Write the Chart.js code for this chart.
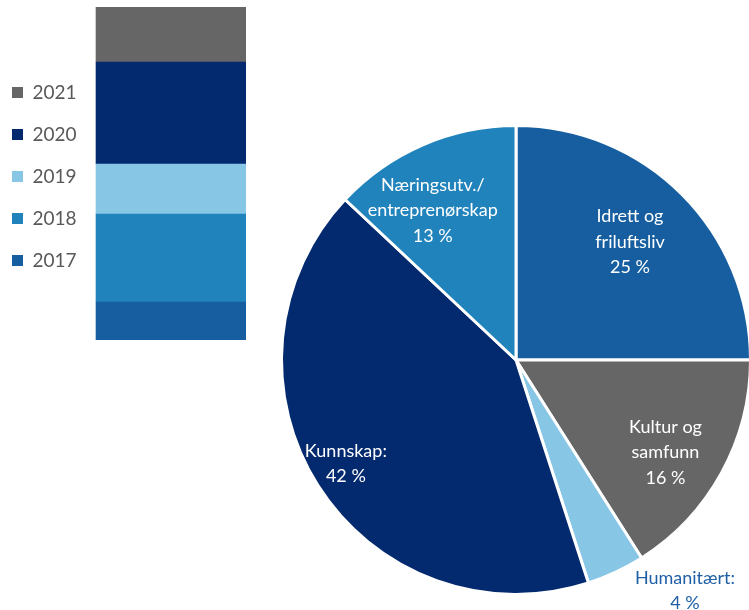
<!DOCTYPE html>
<html>
<head>
<meta charset="utf-8">
<script src="https://cdn.jsdelivr.net/npm/chart.js@4"></script>
<style>
  body { margin: 0; width: 749px; height: 610px; background: #fff; position: relative; overflow: hidden; }
  #barWrap { position: absolute; left: -11px; top: 0; width: 257px; height: 350px; }
  #pieWrap { position: absolute; left: 0; top: 0; width: 760px; height: 620px; }
</style>
</head>
<body>
<div id="barWrap"><canvas id="yearBar"></canvas></div>
<div id="pieWrap"><canvas id="sharePie"></canvas></div>
<script>
// år (stablet søyle)
const years = ["2017", "2018", "2019", "2020", "2021"];
const yearValues = [38, 88, 50, 102, 55];
const yearColors = ["#165ea0", "#2083bb", "#87c6e5", "#032a6f", "#666666"];

// formål (kake)
const purposes = [
  ["Idrett og", "friluftsliv"],
  ["Kultur og", "samfunn"],
  ["Humanitært:"],
  ["Kunnskap:"],
  ["Næringsutv./", "entreprenørskap"]
];
const purposeShares = [25, 16, 4, 42, 13];
const purposeColors = ["#165ea0", "#666666", "#87c6e5", "#032a6f", "#2083bb"];

// etikettplassering: andel av radius og vinkeljustering (grader)
const labelDist = [0.70, 0.75, 1.22, 0.85, 0.73];
const labelTurn = [-1, 3, -11, 1, -5.7];
const labelColor = ["#fff", "#fff", "#1f5fa6", "#fff", "#fff"];

Chart.defaults.font.family = "Lato, 'Liberation Sans', sans-serif";
Chart.defaults.animation = false;

document.addEventListener("DOMContentLoaded", () => {
  // litt bredere legende, så søylen havner der den skal
  const widerLegend = {
    id: "widerLegend",
    beforeInit(chart) {
      const fit = chart.legend.fit;
      chart.legend.fit = function () {
        fit.bind(chart.legend)();
        this.width += 9;
      };
    },
  };

  const barCanvas = document.getElementById("yearBar");
  if (barCanvas) {
    new Chart(barCanvas.getContext("2d"), {
      type: "bar",
      data: {
        labels: [""],
        datasets: years.map((y, i) => ({
          label: y,
          data: [yearValues[i]],
          backgroundColor: yearColors[i],
          barPercentage: 1,
          categoryPercentage: 1,
        })),
      },
      options: {
        responsive: true,
        maintainAspectRatio: false,
        events: [],
        layout: { padding: { top: 7, bottom: 10, right: 0 } },
        scales: {
          x: { stacked: true, display: false },
          y: { stacked: true, display: false, min: 0, max: yearValues.reduce((a, b) => a + b, 0) },
        },
        plugins: {
          tooltip: { enabled: false },
          legend: {
            position: "left",
            reverse: true,
            title: { display: true, text: "", font: { size: 6, lineHeight: 1 }, padding: 0 },
            labels: {
              boxWidth: 11,
              boxHeight: 11,
              padding: 23,
              color: "#595959",
              font: { size: 19 },
            },
          },
        },
      },
      plugins: [widerLegend],
    });
  }

  const pieLabels = {
    id: "pieLabels",
    afterDatasetsDraw(chart) {
      const ctx = chart.ctx;
      const arcs = chart.getDatasetMeta(0).data;
      ctx.save();
      ctx.font = "18px Lato, 'Liberation Sans', sans-serif";
      ctx.textAlign = "center";
      ctx.textBaseline = "middle";
      arcs.forEach((arc, i) => {
        const mid = (arc.startAngle + arc.endAngle) / 2 + labelTurn[i] * Math.PI / 180;
        const r = arc.outerRadius * labelDist[i];
        const x = arc.x + Math.cos(mid) * r;
        const y = arc.y + Math.sin(mid) * r;
        const lines = purposes[i].concat([purposeShares[i] + " %"]);
        const lh = 25.5;
        ctx.fillStyle = labelColor[i];
        lines.forEach((t, k) => {
          ctx.fillText(t, x, y + (k - (lines.length - 1) / 2) * lh);
        });
      });
      ctx.restore();
    },
  };

  const pieCanvas = document.getElementById("sharePie");
  if (pieCanvas) {
    new Chart(pieCanvas.getContext("2d"), {
      type: "pie",
      data: {
        labels: purposes.map((p) => p.join(" ")),
        datasets: [
          {
            data: purposeShares,
            backgroundColor: purposeColors,
            borderColor: "#ffffff",
            borderWidth: 3,
          },
        ],
      },
      options: {
        responsive: true,
        maintainAspectRatio: false,
        events: [],
        layout: { padding: { left: 280, right: 8, top: 124, bottom: 24 } },
        plugins: {
          legend: { display: false },
          tooltip: { enabled: false },
        },
      },
      plugins: [pieLabels],
    });
  }
});
</script>
</body>
</html>
